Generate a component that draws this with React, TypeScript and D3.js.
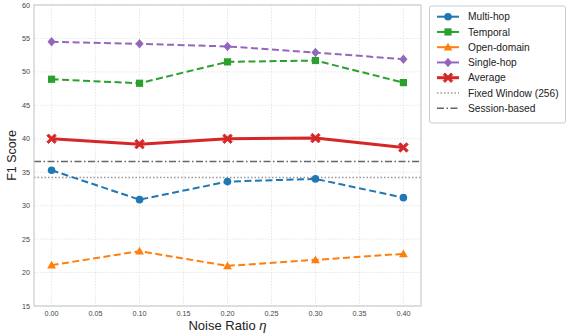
import React from "react";
import * as d3 from "d3";

const noise = [0.0, 0.1, 0.2, 0.3, 0.4];
const multiHop = [35.3, 30.9, 33.6, 34.0, 31.2];
const temporal = [48.9, 48.3, 51.5, 51.7, 48.4];
const openDomain = [21.1, 23.2, 21.0, 21.9, 22.8];
const singleHop = [54.5, 54.2, 53.8, 52.9, 51.9];
const average = [40.0, 39.2, 40.0, 40.1, 38.7];
const fixedWindow = 34.2;
const sessionBased = 36.6;
const xTicks = [0.0, 0.05, 0.1, 0.15, 0.2, 0.25, 0.3, 0.35, 0.4];
const yTicks = [15, 20, 25, 30, 35, 40, 45, 50, 55, 60];

type Series = { name: string; values: number[]; color: string; marker: string; width: number; dash: string };
const series: Series[] = [
  { name: "Multi-hop", values: multiHop, color: "#1f77b4", marker: "circle", width: 2, dash: "7,3.5" },
  { name: "Temporal", values: temporal, color: "#2ca02c", marker: "square", width: 2, dash: "7,3.5" },
  { name: "Open-domain", values: openDomain, color: "#ff7f0e", marker: "triangle", width: 2, dash: "7,3.5" },
  { name: "Single-hop", values: singleHop, color: "#9467bd", marker: "diamond", width: 2, dash: "7,3.5" },
  { name: "Average", values: average, color: "#d62728", marker: "x", width: 3, dash: "" },
];

const W = 566, H = 336;
const left = 34, right = 421, top = 5, bottom = 306;
const x = d3.scaleLinear().domain([-0.02, 0.42]).range([left, right]);
const y = d3.scaleLinear().domain([15, 60]).range([bottom, top]);

function Marker({ kind, cx, cy, color }: { kind: string; cx: number; cy: number; color: string }) {
  if (kind === "circle") return <circle cx={cx} cy={cy} r={3.8} fill={color} />;
  if (kind === "square") return <rect x={cx - 3.6} y={cy - 3.6} width={7.2} height={7.2} fill={color} />;
  if (kind === "triangle") {
    const s = 4.4;
    return <path d={`M${cx},${cy - s} L${cx + s},${cy + s * 0.75} L${cx - s},${cy + s * 0.75} Z`} fill={color} />;
  }
  if (kind === "diamond") {
    const s = 4.8;
    return <path d={`M${cx},${cy - s} L${cx + s * 0.85},${cy} L${cx},${cy + s} L${cx - s * 0.85},${cy} Z`} fill={color} />;
  }
  // filled X
  const a = 4.8, b = 1.8;
  const pts: [number, number][] = [
    [-a, -a + b], [-a + b, -a], [0, -b], [a - b, -a], [a, -a + b], [b, 0],
    [a, a - b], [a - b, a], [0, b], [-a + b, a], [-a, a - b], [-b, 0],
  ];
  return <path d={"M" + pts.map(([px, py]) => `${cx + px},${cy + py}`).join("L") + "Z"} fill={color} stroke={color} strokeWidth={0.8} />;
}

export default function App() {
  const line = d3.line<[number, number]>().x((d) => x(d[0])).y((d) => y(d[1]));
  const font = "'Liberation Sans', Arial, sans-serif";
  const legendItems = [
    ...series.map((s) => ({ name: s.name, color: s.color, marker: s.marker, width: s.width, dash: "" })),
    { name: "Fixed Window (256)", color: "#999999", marker: "", width: 1.5, dash: "1.5,2" },
    { name: "Session-based", color: "#666666", marker: "", width: 1.5, dash: "7,2.5,1.5,2.5" },
  ];
  return (
    <svg width={W} height={H} style={{ position: "absolute", left: 0, top: 0 }} fontFamily={font}>
      <rect width={W} height={H} fill="#ffffff" />
      {xTicks.map((t) => (
        <line key={"gx" + t} x1={x(t)} x2={x(t)} y1={top} y2={bottom} stroke="#e0e0e0" strokeWidth={0.8} strokeDasharray="1.5,1.5" />
      ))}
      {yTicks.map((t) => (
        <line key={"gy" + t} x1={left} x2={right} y1={y(t)} y2={y(t)} stroke="#e0e0e0" strokeWidth={0.8} strokeDasharray="1.5,1.5" />
      ))}
      <line x1={left} x2={right} y1={y(fixedWindow)} y2={y(fixedWindow)} stroke="#999999" strokeWidth={1.5} strokeDasharray="1.5,2" />
      <line x1={left} x2={right} y1={y(sessionBased)} y2={y(sessionBased)} stroke="#666666" strokeWidth={1.5} strokeDasharray="7,2.5,1.5,2.5" />
      {series.map((s) => (
        <g key={s.name}>
          <path
            d={line(noise.map((n, i) => [n, s.values[i]] as [number, number])) || ""}
            fill="none"
            stroke={s.color}
            strokeWidth={s.width}
            strokeDasharray={s.dash}
          />
          {noise.map((n, i) => (
            <Marker key={i} kind={s.marker} cx={x(n)} cy={y(s.values[i])} color={s.color} />
          ))}
        </g>
      ))}
      <rect x={left} y={top} width={right - left} height={bottom - top} fill="none" stroke="#cccccc" strokeWidth={1.2} />
      {xTicks.map((t) => (
        <text key={"tx" + t} x={x(t)} y={bottom + 9.5} textAnchor="middle" fontSize={7.2} fill="#444">
          {t.toFixed(2)}
        </text>
      ))}
      {yTicks.map((t) => (
        <text key={"ty" + t} x={left - 4} y={y(t) + 2.6} textAnchor="end" fontSize={7.2} fill="#444">
          {t}
        </text>
      ))}
      <text x={(left + right) / 2} y={329.5} textAnchor="middle" fontSize={13} fill="#222">
        Noise Ratio <tspan fontStyle="italic">η</tspan>
      </text>
      <text transform={`translate(16,${(top + bottom) / 2}) rotate(-90)`} textAnchor="middle" fontSize={12.5} fill="#222">
        F1 Score
      </text>
      <rect x={429.5} y={6} width={136} height={117} fill="#ffffff" stroke="#cccccc" strokeWidth={1} rx={2} />
      {legendItems.map((it, i) => {
        const ly = 16.7 + i * 15.25;
        return (
          <g key={it.name}>
            <line x1={437} x2={459} y1={ly} y2={ly} stroke={it.color} strokeWidth={it.width} strokeDasharray={it.dash} />
            {it.marker && <Marker kind={it.marker} cx={448} cy={ly} color={it.color} />}
            <text x={468} y={ly + 3.6} fontSize={10.2} fill="#222">
              {it.name}
            </text>
          </g>
        );
      })}
    </svg>
  );
}
